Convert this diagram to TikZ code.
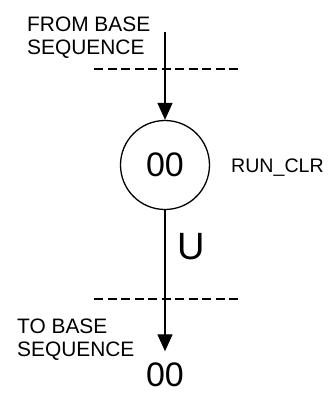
\documentclass[tikz,border=0pt]{standalone}
\usepackage{fontspec}
\setmainfont{Liberation Sans}
\usetikzlibrary{arrows.meta}

\begin{document}
\begin{tikzpicture}[x=1pt,y=-1pt,line width=1.3pt,
  lbl/.style={inner sep=0pt,anchor=north west,align=left,
    font=\fontsize{20.9}{23}\selectfont},
  big/.style={inner sep=0pt,font=\fontsize{34}{40}\selectfont},
  flow/.style={-{Triangle[length=17pt,width=15pt]}},
  cut/.style={line width=1.2pt,dash pattern=on 9pt off 4.5pt}]

\useasboundingbox (0,0) rectangle (328,394);

% Entree
\coordinate (src) at (165,32);
\node[lbl] (from) at (26.5,16) {FROM BASE\\SEQUENCE};

\draw[cut] (94,69) -- (238,69);

% Etat
\node[big,draw,circle,minimum size=89pt] (st) at (165,165) {00};
\node[lbl,font=\fontsize{19.6}{23}\selectfont] (act) at (230.5,158) {RUN\_CLR};

\draw[flow] (src) -- (st);

% Sortie
\node[big] (nx) at (165,375) {00};
\node[inner sep=0pt,font=\fontsize{38}{44}\selectfont] (cond) at (191,247) {U};
\node[lbl] (to) at (16.5,318) {TO BASE\\SEQUENCE};

\draw[cut] (94,299) -- (238,299);

\draw[flow,shorten >=11pt] (st) -- (nx);

\end{tikzpicture}
\end{document}
